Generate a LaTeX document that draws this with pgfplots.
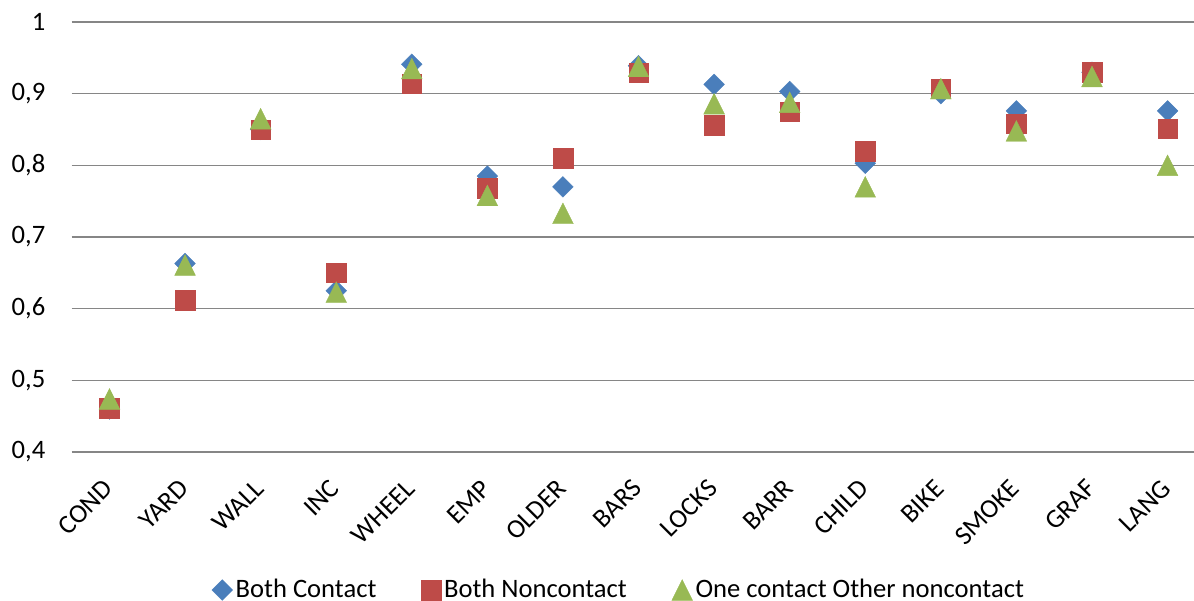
\documentclass[border=0pt]{standalone}
\usepackage{fontspec}
\setmainfont{Carlito}
\usepackage{pgfplots}
\pgfplotsset{compat=1.18}

\definecolor{cblue}{RGB}{74,126,187}
\definecolor{cred}{RGB}{190,75,72}
\definecolor{cgreen}{RGB}{152,185,84}
\definecolor{cgrid}{RGB}{134,134,134}

\begin{document}
\begin{tikzpicture}
\path[use as bounding box] (0,0) rectangle (597pt,300pt);
\begin{axis}[
  at={(35.85pt,74pt)}, anchor=south west,
  scale only axis,
  width=561.15pt, height=215pt,
  xmin=-0.5, xmax=14.35,
  ymin=0.4, ymax=1,
  ytick={0.4,0.5,...,1.0},
  xtick={0,...,14},
  xticklabels={COND,YARD,WALL,INC,WHEEL,EMP,OLDER,BARS,LOCKS,BARR,CHILD,BIKE,SMOKE,GRAF,LANG},
  font=\fontsize{13.3pt}{15pt}\selectfont,
  ymajorgrids,
  major grid style={cgrid, line width=0.75pt},
  axis line style={draw=none},
  major tick length=0pt,
  /pgf/number format/.cd, fixed, precision=1, use comma, assume math mode=true,
  /pgfplots/.cd,
  yticklabel style={anchor=east, inner sep=0pt, xshift=-13pt},
  xticklabel style={xshift=-0.5pt, yshift=-16pt, rotate=45, anchor=east, inner sep=0pt},
  legend image code/.code={\draw[mark repeat=2,mark phase=2,#1] plot coordinates {(-5pt,0pt) (0pt,0pt) (5pt,0pt)};},
  legend columns=3,
  legend style={draw=none, fill=none, inner sep=0pt, outer sep=0pt,
    at={(0.125,-0.321)}, anchor=west,
    nodes={inner sep=1.5pt},
    /tikz/every even column/.append style={column sep=21pt}},
  legend cell align=left,
]
% Both Contact
\addplot[only marks, mark=square*, mark size=3.65pt,
  mark options={rotate=45, draw=cblue, fill=cblue, line width=0.2pt}]
  coordinates {(0,0.460) (1,0.663) (2,0.850) (3,0.625) (4,0.941) (5,0.785) (6,0.770)
  (7,0.939) (8,0.913) (9,0.903) (10,0.803) (11,0.900) (12,0.876) (13,0.930) (14,0.876)};
\addlegendentry{Both Contact}
% Both Noncontact
\addplot[only marks, mark=square*, mark size=4.9pt,
  mark options={draw=cred, fill=cred, line width=0.2pt}]
  coordinates {(0,0.461) (1,0.612) (2,0.850) (3,0.650) (4,0.914) (5,0.768) (6,0.810)
  (7,0.929) (8,0.856) (9,0.875) (10,0.820) (11,0.907) (12,0.858) (13,0.930) (14,0.851)};
\addlegendentry{Both Noncontact}
% One contact, other noncontact
\addplot[only marks, mark=triangle*, mark size=6.9pt,
  mark options={xscale=0.866, yshift=-1.725pt, draw=cgreen, fill=cgreen, line width=0.2pt}]
  coordinates {(0,0.474) (1,0.661) (2,0.865) (3,0.623) (4,0.935) (5,0.758) (6,0.733)
  (7,0.938) (8,0.886) (9,0.888) (10,0.770) (11,0.907) (12,0.848) (13,0.924) (14,0.800)};
\addlegendentry{One contact Other noncontact}
\end{axis}
\end{tikzpicture}
\end{document}
